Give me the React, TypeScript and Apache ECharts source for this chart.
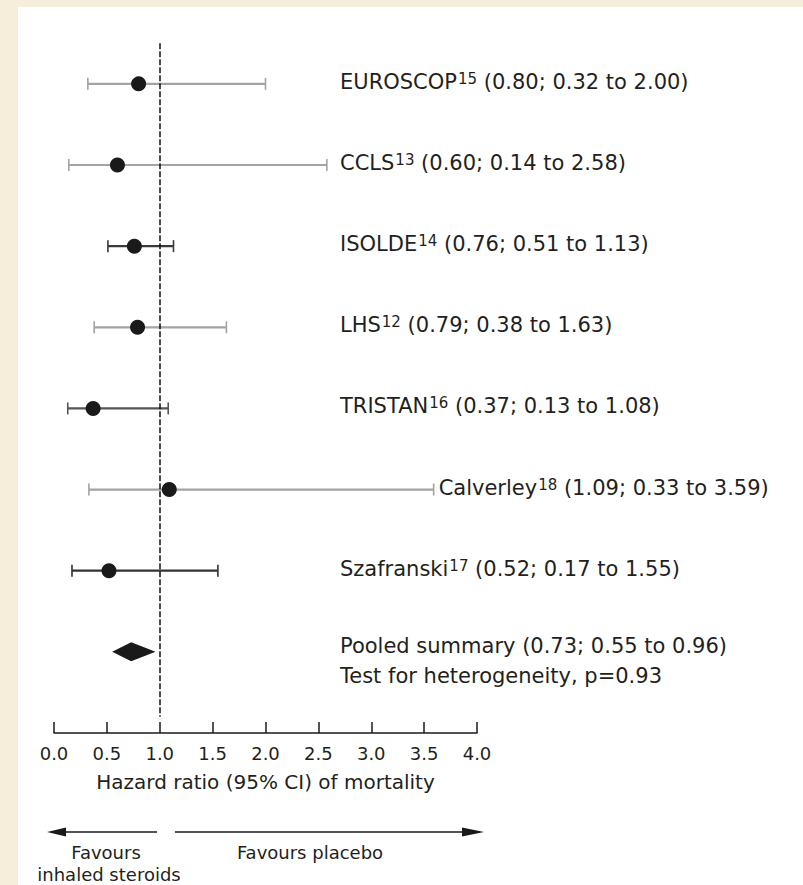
import React, { useEffect, useRef } from "react";
import * as echarts from "echarts";

// ---- data ----
const studies = ["EUROSCOP", "CCLS", "ISOLDE", "LHS", "TRISTAN", "Calverley", "Szafranski"];
const refNumbers = ["15", "13", "14", "12", "16", "18", "17"];
const hazardRatio = [0.8, 0.6, 0.76, 0.79, 0.37, 1.09, 0.52];
const ciLow = [0.32, 0.14, 0.51, 0.38, 0.13, 0.33, 0.17];
const ciHigh = [2.0, 2.58, 1.13, 1.63, 1.08, 3.59, 1.55];
const pooledLabel = "Pooled summary";
const pooledEstimate = [0.73, 0.55, 0.96]; // hr, low, high
const heterogeneityP = 0.93;
const xTicks = [0, 0.5, 1, 1.5, 2, 2.5, 3, 3.5, 4];
const xTitle = "Hazard ratio (95% CI) of mortality";
const favourLeft = ["Favours", "inhaled steroids"];
const favourRight = "Favours placebo";

// ---- styles (separate from data) ----
const ciColors = ["#a3a3a3", "#a3a3a3", "#3a3a3a", "#a3a3a3", "#555555", "#a3a3a3", "#333333"];
const INK = "#231f20";
const FONT = "DejaVu Sans";
const LABEL_X = 340;
const LABEL_SIZE = 21;

const fmt = (v: number) => v.toFixed(2);
const studyLabel = (i: number) =>
  `${studies[i]}{sup|${refNumbers[i]}} (${fmt(hazardRatio[i])}; ${fmt(ciLow[i])} to ${fmt(ciHigh[i])})`;

export default function App() {
  const ref = useRef<HTMLDivElement>(null);

  useEffect(() => {
    document.body.style.margin = "0";
    if (!ref.current) return;
    const chart = echarts.init(ref.current, null, { renderer: "svg" });

    const richStyle = {
      sup: { fontSize: 15, fontFamily: FONT, fill: INK, color: INK, verticalAlign: "top", padding: [0, 0, 6, 1] },
    };

    const ciData = studies.map((_, i) => [ciLow[i], ciHigh[i], i, i]);
    const pointData = studies.map((_, i) => [hazardRatio[i], i]);
    const pooledRow = studies.length;

    const option: any = {
      animation: false,
      backgroundColor: "transparent",
      grid: { left: 54, right: 326, top: 43.3, bottom: 152, containLabel: false },
      xAxis: {
        type: "value",
        min: 0,
        max: 4,
        interval: 0.5,
        axisLine: { show: true, onZero: false, lineStyle: { color: "#1a1a1a", width: 1.5 } },
        axisTick: { show: true, inside: true, length: 11, lineStyle: { color: "#1a1a1a", width: 1.5 } },
        splitLine: { show: false },
        axisLabel: {
          color: INK,
          fontFamily: FONT,
          fontSize: 18,
          margin: 11,
          formatter: (v: number) => (xTicks.includes(v) ? v.toFixed(1) : ""),
        },
        name: xTitle,
        nameLocation: "middle",
        nameGap: 39,
        nameTextStyle: { color: INK, fontFamily: FONT, fontSize: 20 },
      },
      yAxis: {
        type: "value",
        inverse: true,
        min: -0.5,
        max: 8,
        show: false,
      },
      series: [
        {
          type: "custom",
          clip: false,
          z: 2,
          data: ciData,
          renderItem: (params: any, api: any) => {
            const row = api.value(2);
            const i = api.value(3);
            const lo = api.coord([api.value(0), row]);
            const hi = api.coord([api.value(1), row]);
            const color = ciColors[i];
            const capH = 6;
            const textX = Math.max(hi[0] + 5, LABEL_X);
            return {
              type: "group",
              children: [
                { type: "line", shape: { x1: lo[0], y1: lo[1], x2: hi[0], y2: hi[1] }, style: { stroke: color, lineWidth: 2.2 } },
                { type: "line", shape: { x1: lo[0], y1: lo[1] - capH, x2: lo[0], y2: lo[1] + capH }, style: { stroke: color, lineWidth: 1.6 } },
                { type: "line", shape: { x1: hi[0], y1: hi[1] - capH, x2: hi[0], y2: hi[1] + capH }, style: { stroke: color, lineWidth: 1.6 } },
                {
                  type: "text",
                  style: {
                    x: textX,
                    y: lo[1] - 2,
                    text: studyLabel(i),
                    fill: INK,
                    fontFamily: FONT,
                    fontSize: LABEL_SIZE,
                    align: "left",
                    verticalAlign: "middle",
                    rich: richStyle,
                  },
                },
              ],
            };
          },
        },
        {
          type: "scatter",
          z: 3,
          symbol: "circle",
          symbolSize: 15,
          itemStyle: { color: "#1a1a1a", opacity: 1 },
          data: pointData,
          markLine: {
            silent: true,
            symbol: "none",
            label: { show: false },
            lineStyle: { color: "#111", width: 1.5, type: [6, 2], opacity: 1 },
            data: [[{ coord: [1, -0.5] }, { coord: [1, 7.8] }]],
          },
        },
        {
          type: "custom",
          clip: false,
          z: 3,
          data: [[pooledEstimate[0], pooledEstimate[1], pooledEstimate[2], pooledRow]],
          renderItem: (params: any, api: any) => {
            const row = api.value(3);
            const c = api.coord([api.value(0), row]);
            const l = api.coord([api.value(1), row]);
            const r = api.coord([api.value(2), row]);
            const h = 9.5;
            return {
              type: "group",
              children: [
                {
                  type: "polygon",
                  shape: { points: [[l[0], l[1]], [c[0], c[1] - h], [r[0], r[1]], [c[0], c[1] + h]] },
                  style: { fill: "#1a1a1a" },
                },
                {
                  type: "text",
                  style: {
                    x: LABEL_X,
                    y: c[1] - 6,
                    text: `${pooledLabel} (${fmt(pooledEstimate[0])}; ${fmt(pooledEstimate[1])} to ${fmt(pooledEstimate[2])})`,
                    fill: INK,
                    fontFamily: FONT,
                    fontSize: LABEL_SIZE,
                    align: "left",
                    verticalAlign: "middle",
                  },
                },
                {
                  type: "text",
                  style: {
                    x: LABEL_X,
                    y: c[1] + 24,
                    text: `Test for heterogeneity, p=${heterogeneityP.toFixed(2)}`,
                    fill: INK,
                    fontFamily: FONT,
                    fontSize: LABEL_SIZE,
                    align: "left",
                    verticalAlign: "middle",
                  },
                },
              ],
            };
          },
        },
      ],
      graphic: [
        { type: "line", shape: { x1: 62, y1: 832, x2: 157, y2: 832 }, style: { stroke: "#1a1a1a", lineWidth: 1.5 } },
        { type: "polygon", shape: { points: [[47, 832], [66, 827.5], [66, 836.5]] }, style: { fill: "#1a1a1a" } },
        { type: "line", shape: { x1: 175, y1: 832, x2: 466, y2: 832 }, style: { stroke: "#1a1a1a", lineWidth: 1.5 } },
        { type: "polygon", shape: { points: [[484, 832], [462, 827.5], [462, 836.5]] }, style: { fill: "#1a1a1a" } },
        { type: "text", style: { x: 106, y: 852, text: favourLeft[0], fill: INK, fontFamily: FONT, fontSize: 18, align: "center", verticalAlign: "middle" } },
        { type: "text", style: { x: 109, y: 874, text: favourLeft[1], fill: INK, fontFamily: FONT, fontSize: 18, align: "center", verticalAlign: "middle" } },
        { type: "text", style: { x: 310, y: 852, text: favourRight, fill: INK, fontFamily: FONT, fontSize: 18, align: "center", verticalAlign: "middle" } },
      ],
    };

    chart.setOption(option);
    return () => chart.dispose();
  }, []);

  return (
    <div style={{ position: "relative", width: 803, height: 885, background: "#f6eedb", overflow: "hidden" }}>
      <div style={{ position: "absolute", left: 18, top: 7, right: 0, bottom: 0, background: "#ffffff" }} />
      <div ref={ref} style={{ position: "absolute", left: 0, top: 0, width: 803, height: 885 }} />
    </div>
  );
}
